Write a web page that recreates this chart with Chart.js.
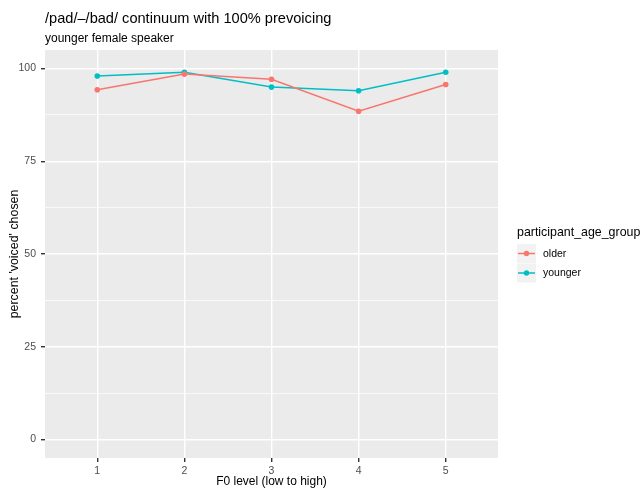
<!DOCTYPE html>
<html>
<head>
<meta charset="utf-8">
<script src="https://cdn.jsdelivr.net/npm/chart.js@4"></script>
<style>
html,body{margin:0;padding:0;background:#fff;}
#wrap{width:642px;height:491px;position:relative;}
</style>
</head>
<body>
<div id="wrap"><canvas id="c" width="642" height="491"></canvas></div>
<script>
const categories = [1, 2, 3, 4, 5];
const olderValues = [94.3, 98.5, 97.1, 88.5, 95.7];
const youngerValues = [98.0, 99.0, 95.0, 94.0, 99.0];
const yTickValues = [0, 25, 50, 75, 100];
const yMinorValues = [12.5, 37.5, 62.5, 87.5];
const seriesNames = ['older', 'younger'];
const seriesColors = ['#F8766D', '#00BFC4'];
const titleText = '/pad/\u2013/bad/ continuum with 100% prevoicing';
const subtitleText = 'younger female speaker';
const legendTitle = 'participant_age_group';
const xTitle = 'F0 level (low to high)';
const yTitle = "percent 'voiced' chosen";

const FONT = "'Liberation Sans', Arial, Helvetica, sans-serif";

const bgPlugin = {
  id: 'panelBg',
  beforeDraw(chart) {
    const {ctx, chartArea: a} = chart;
    ctx.save();
    ctx.fillStyle = '#EBEBEB';
    ctx.fillRect(a.left, a.top, a.right - a.left, a.bottom - a.top);
    ctx.restore();
  },
  afterDraw(chart) {
    const {ctx, chartArea: a} = chart;
    ctx.save();
    ctx.fillStyle = '#000';
    ctx.textBaseline = 'alphabetic';
    ctx.textAlign = 'left';
    ctx.font = '14.6px ' + FONT;
    ctx.fillText(titleText, a.left, 23);
    ctx.font = '12px ' + FONT;
    ctx.fillText(subtitleText, a.left, 42);
    // legend
    const lx = 517;
    ctx.font = '12.4px ' + FONT;
    ctx.textBaseline = 'middle';
    ctx.fillText(legendTitle, lx, 233);
    ctx.font = '10.5px ' + FONT;
    chart.data.datasets.forEach((ds, i) => {
      const ky = 244 + i * 19.5;
      ctx.fillStyle = '#F2F2F2';
      ctx.fillRect(lx, ky, 19, 19);
      ctx.strokeStyle = ds.borderColor;
      ctx.lineWidth = 1.5;
      ctx.beginPath();
      ctx.moveTo(lx + 1, ky + 9.5);
      ctx.lineTo(lx + 18, ky + 9.5);
      ctx.stroke();
      ctx.fillStyle = ds.borderColor;
      ctx.beginPath();
      ctx.arc(lx + 9.5, ky + 9.5, 2.7, 0, Math.PI * 2);
      ctx.fill();
      ctx.fillStyle = '#000';
      ctx.fillText(ds.label, lx + 26, ky + 10);
    });
    ctx.restore();
  }
};

new Chart(document.getElementById('c'), {
  type: 'line',
  data: {
    datasets: [
      {
        label: seriesNames[0],
        data: categories.map((x, i) => ({x: x, y: olderValues[i]})),
        borderColor: seriesColors[0],
        backgroundColor: seriesColors[0],
        borderWidth: 1.5,
        pointRadius: 2.8,
        pointBorderWidth: 0,
        tension: 0
      },
      {
        label: seriesNames[1],
        data: categories.map((x, i) => ({x: x, y: youngerValues[i]})),
        borderColor: seriesColors[1],
        backgroundColor: seriesColors[1],
        borderWidth: 1.5,
        pointRadius: 2.8,
        pointBorderWidth: 0,
        tension: 0
      }
    ]
  },
  options: {
    responsive: false,
    animation: false,
    devicePixelRatio: 1,
    layout: {padding: {left: 0, right: 144, top: 50, bottom: 0}},
    plugins: {
      legend: {display: false},
      tooltip: {enabled: false},
      title: {display: false}
    },
    scales: {
      x: {
        type: 'linear',
        min: 0.4,
        max: 5.6,
        afterBuildTicks(scale) { scale.ticks = categories.map(v => ({value: v})); },
        afterFit(scale) { scale.height = 33; },
        border: {display: false},
        grid: {color: '#FFFFFF', lineWidth: 1.4, tickColor: '#333333', tickLength: 4, drawTicks: true},
        ticks: {color: '#4D4D4D', font: {family: FONT, size: 10.5}, padding: 3, maxRotation: 0,
          callback: v => String(v)},
        title: {display: true, text: xTitle, color: '#000', font: {family: FONT, size: 12}, padding: {top: 0, bottom: 2}}
      },
      y: {
        type: 'linear',
        min: -5,
        max: 105,
        afterBuildTicks(scale) {
          const all = yTickValues.concat(yMinorValues).sort((a, b) => a - b);
          scale.ticks = all.map(v => ({value: v}));
        },
        afterFit(scale) { scale.width = 45; },
        border: {display: false},
        grid: {
          color: '#FFFFFF',
          lineWidth: ctx => (ctx.tick && yTickValues.includes(ctx.tick.value)) ? 1.4 : 0.7,
          tickColor: ctx => (ctx.tick && yTickValues.includes(ctx.tick.value)) ? '#333333' : 'rgba(0,0,0,0)',
          tickLength: 4,
          drawTicks: true
        },
        ticks: {color: '#4D4D4D', font: {family: FONT, size: 10.5}, padding: 5,
          callback: v => yTickValues.includes(v) ? String(v) : ''},
        title: {display: true, text: yTitle, color: '#000', font: {family: FONT, size: 12.4}, padding: {top: 7, bottom: 0}}
      }
    }
  },
  plugins: [bgPlugin]
});
</script>
</body>
</html>
